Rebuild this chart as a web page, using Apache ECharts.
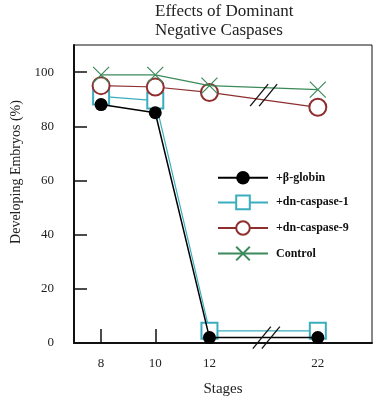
<!DOCTYPE html>
<html><head><meta charset="utf-8">
<script src="https://cdn.jsdelivr.net/npm/echarts@6/dist/echarts.min.js"></script>
<style>html,body{margin:0;padding:0;background:#fff}#c{width:373px;height:397px}</style>
</head><body><div id="c"></div>
<script>
// ---- data ----
const stages = ['8', '10', '12', '22'];
const betaGlobin = [88, 85, 2, 2];
const dnCaspase1 = [91, 89.5, 4.5, 4.5];
const dnCaspase9 = [95, 94.5, 92.5, 87];
const control = [99, 99, 95, 93.5];
const yTicks = [0, 20, 40, 60, 80, 100];
const seriesNames = ['+β-globin', '+dn-caspase-1', '+dn-caspase-9', 'Control'];

// broken axis: one empty slot after stage 12
const breakAfter = 2;
const slots = stages.map((s, i) => i <= breakAfter ? i : i + 1);
const pts = arr => arr.map((v, i) => [slots[i], v]);

const serif = 'Liberation Serif, Times New Roman, serif';
const cCyan = '#3aaebf', cRed = '#8e2f2f', cGreen = '#3b8a5a';

const chart = echarts.init(document.getElementById('c'), null, {renderer: 'canvas'});
const option = {
  animation: false,
  title: {
    text: 'Effects of Dominant\nNegative Caspases',
    left: 150, top: -3,
    textStyle: {fontFamily: serif, fontSize: 17, fontWeight: 'normal', color: '#222', lineHeight: 19}
  },
  grid: {left: 74, right: 1, top: 45, bottom: 54, outerBoundsMode: 'none', containLabel: false,
    show: true, borderColor: '#111', borderWidth: 1, backgroundColor: 'transparent'},
  legend: {
    data: seriesNames,
    orient: 'vertical', left: 212, top: 166,
    itemWidth: 50, itemHeight: 17, itemGap: 10,
    textStyle: {fontFamily: serif, fontSize: 12, fontWeight: 'bold', color: '#111', padding: [0, 0, 0, 3]}
  },
  xAxis: {
    type: 'value', min: -0.5, max: 5,
    name: 'Stages', nameLocation: 'middle', nameGap: 39,
    nameTextStyle: {fontFamily: serif, fontSize: 15, color: '#222'},
    axisLine: {onZero: false, lineStyle: {color: '#111', width: 2}},
    axisTick: {inside: true, length: 14, customValues: slots, lineStyle: {color: '#111', width: 1.5}},
    axisLabel: {customValues: slots, margin: 14, fontFamily: serif, fontSize: 13, color: '#222',
      formatter: v => stages[slots.indexOf(v)] || ''},
    splitLine: {show: false}
  },
  yAxis: {
    type: 'value', min: 0, max: 110,
    axisLine: {show: true, onZero: false, lineStyle: {color: '#111', width: 2}},
    axisTick: {show: true, inside: true, length: 13, customValues: yTicks, lineStyle: {color: '#111', width: 1.5}},
    axisLabel: {customValues: yTicks, margin: 20, fontFamily: serif, fontSize: 13, color: '#222'},
    splitLine: {show: false}
  },
  series: [
    {name: seriesNames[1], type: 'line', data: pts(dnCaspase1), symbol: 'emptyRect', symbolSize: 16,
      lineStyle: {color: cCyan, width: 1.2}, itemStyle: {color: cCyan, borderWidth: 1.2}, z: 2},
    {name: seriesNames[2], type: 'line', data: pts(dnCaspase9), symbol: 'emptyCircle', symbolSize: 17,
      lineStyle: {color: cRed, width: 1.2}, itemStyle: {color: cRed, borderWidth: 1.2}, z: 3},
    {name: seriesNames[0], type: 'line', data: pts(betaGlobin), symbol: 'circle', symbolSize: 13,
      lineStyle: {color: '#000', width: 1.5}, itemStyle: {color: '#000'}, z: 4},
    {name: seriesNames[3], type: 'line', data: pts(control), symbol: 'path://M0,0L10,10M10,0L0,10', symbolSize: 16,
      lineStyle: {color: cGreen, width: 1.2}, itemStyle: {color: cGreen, borderColor: cGreen, borderWidth: 1.2}, z: 5}
  ]
};
chart.setOption(option);

// break marks (computed through the axes)
function slashes(slot, value) {
  const p = chart.convertToPixel({gridIndex: 0}, [slot, value]);
  return [-4.5, 4.5].map(dx => ({
    type: 'line', z: 100,
    shape: {x1: p[0] + dx - 9, y1: p[1] + 11, x2: p[0] + dx + 9, y2: p[1] - 11},
    style: {stroke: '#111', lineWidth: 1.3}
  }));
}
const brk = slots[breakAfter] + 1;
const ax = chart.convertToPixel({gridIndex: 0}, [-0.5, 0]);
chart.setOption({
  graphic: [
    ...slashes(brk, 91.5),
    ...slashes(brk + 0.05, 2),
    {type: 'text', x: ax[0] - 58, y: 172, rotation: Math.PI / 2,
      style: {text: 'Developing Embryos (%)', font: '14px ' + serif, fill: '#222', align: 'center', verticalAlign: 'middle'}}
  ]
});
</script></body></html>
